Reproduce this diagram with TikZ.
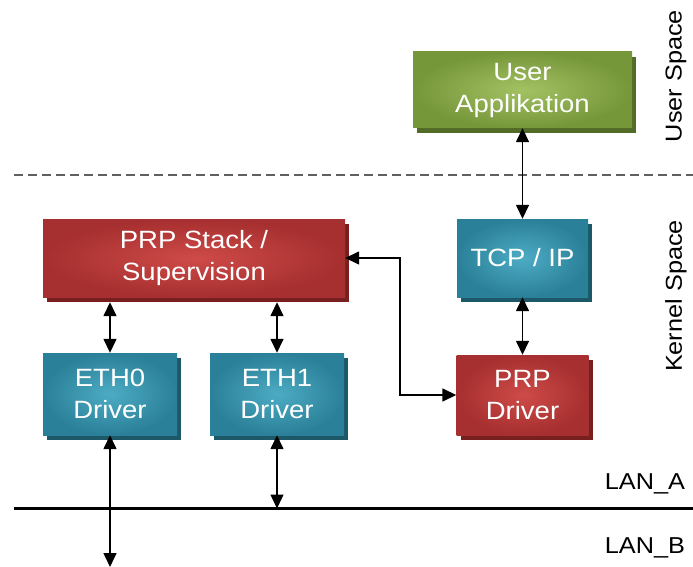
\documentclass[tikz,border=0pt]{standalone}
\usepackage{fontspec}
\setmainfont{Liberation Sans}[FakeStretch=1.1]
\usetikzlibrary{arrows.meta,shadows}

\definecolor{grnO}{HTML}{76963A}
\definecolor{grnI}{HTML}{A2C262}
\definecolor{grnS}{HTML}{526C28}
\definecolor{redO}{HTML}{A62F2F}
\definecolor{redI}{HTML}{CE4B48}
\definecolor{redS}{HTML}{782020}
\definecolor{tealO}{HTML}{2A8098}
\definecolor{tealI}{HTML}{4CACC4}
\definecolor{tealS}{HTML}{1C5868}
\definecolor{dashgray}{HTML}{606060}

\tikzset{
  block/.style={rectangle, inner sep=0pt, align=center, text=white,
    font=\fontsize{25}{32}\selectfont, shading=radial,
    drop shadow={shadow xshift=4pt, shadow yshift=-5pt, opacity=1, fill=#1S},
    inner color=#1I, outer color=#1O},
  link/.style={line width=1.5pt,
    {Triangle[length=14pt,width=13pt]}-{Triangle[length=14pt,width=13pt]}},
  sidelabel/.style={font=\fontsize{23}{26}\selectfont, text=black, inner sep=0pt}
}

\begin{document}
\begin{tikzpicture}[x=1pt,y=-1pt]
\useasboundingbox (0,0) rectangle (693,567);
\fill[white] (0,0) rectangle (693,567);

% user / kernel boundary and the LAN bus
\draw[dashgray, line width=2pt, dash pattern=on 9pt off 5pt] (14,175) -- (693,175);
\draw[black, line width=2.5pt] (14,508.5) -- (693,508.5);

% blocks
\node[block=grn, minimum width=219pt, minimum height=76pt] (user) at (522.5,90) {User\\Applikation};
\node[block=teal, minimum width=131pt, minimum height=78pt] (tcp) at (522.5,258) {TCP / IP};
\node[block=red, minimum width=302pt, minimum height=78pt] (stack) at (194,258) {PRP Stack /\\Supervision};
\node[block=teal, minimum width=134pt, minimum height=82pt] (eth0) at (110,394) {ETH0\\Driver};
\node[block=teal, minimum width=134pt, minimum height=82pt] (eth1) at (277,394) {ETH1\\Driver};
\node[block=red, minimum width=132pt, minimum height=80pt] (prp) at (522.5,395) {PRP\\Driver};

% side labels
\node[sidelabel, rotate=90] (usp) at (676,76) {User Space};
\node[sidelabel, rotate=90] (ksp) at (676,296) {Kernel Space};
\node[sidelabel] (lana) at (645,484) {LAN\_A};
\node[sidelabel] (lanb) at (645,548) {LAN\_B};

% free ends on the buses
\coordinate (busA) at (277,508.5);
\coordinate (busB) at (110,567);

% connectors
\draw[link] (user.south) -- (tcp.north);
\draw[link] (tcp.south) -- (prp.north);
\draw[link] (stack.east) -- (400,258) |- (prp.west);
\draw[link] (stack.south -| eth0.north) ++(0,5) -- (eth0.north);
\draw[link] (stack.south -| eth1.north) ++(0,5) -- (eth1.north);
\draw[link] (eth0.south) -- (busB);
\draw[link] (eth1.south) -- (busA);
\end{tikzpicture}
\end{document}
